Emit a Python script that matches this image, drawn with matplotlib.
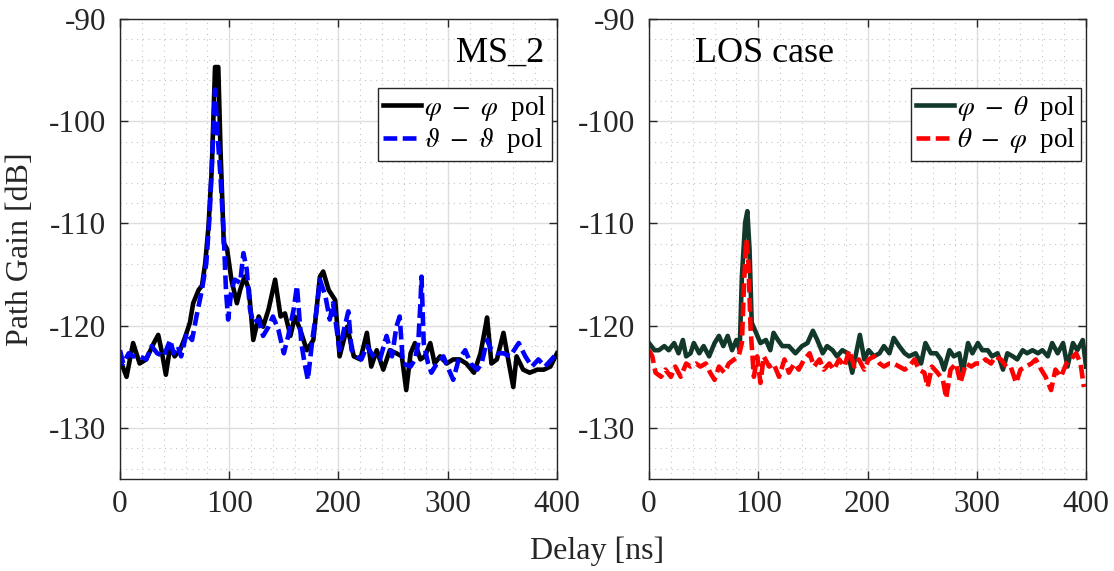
import numpy as np
import matplotlib
matplotlib.use("Agg")
import matplotlib.pyplot as plt
from matplotlib.ticker import MultipleLocator

plt.rcParams['font.family'] = ['Liberation Serif', 'DejaVu Serif']
plt.rcParams['mathtext.fontset'] = 'stix'

# ---- data: left panel (MS_2) ----
t_pp = [0, 6, 12, 18, 24, 31, 35, 38, 42, 46, 50, 55, 60, 64, 67, 72, 75, 78, 81, 84, 87, 90, 92, 95, 98,
        102, 107, 110, 114, 118, 122, 127, 131, 136, 142, 147, 151, 156, 160, 165, 171, 177, 183, 186, 191,
        197, 201, 208, 214, 220, 226, 230, 235, 241, 247, 253, 258, 262, 266, 270, 275, 279, 284, 288, 293,
        299, 305, 311, 317, 324, 330, 334, 336, 340, 345, 351, 356, 360, 363, 369, 375, 382, 388, 394, 400]
g_pp = [-123.3, -125.0, -121.7, -123.7, -123.3, -121.7, -120.9, -122.4, -124.8, -122.0, -123.0, -122.4,
        -121.0, -119.7, -117.8, -116.5, -116.1, -113.9, -110.3, -104.7, -94.7, -94.7, -102.7, -111.9, -112.5,
        -115.5, -117.8, -116.5, -115.2, -116.5, -121.4, -119.1, -120.1, -118.4, -115.5, -119.1, -118.8,
        -121.0, -119.1, -120.4, -122.4, -121.4, -115.2, -114.7, -116.5, -117.5, -123.0, -120.1, -123.0,
        -123.3, -120.7, -124.0, -122.4, -124.3, -122.4, -122.7, -123.0, -126.3, -122.7, -121.7, -123.3,
        -123.0, -121.7, -123.7, -123.0, -123.7, -123.3, -123.3, -123.7, -124.6, -122.7, -120.4, -119.2,
        -123.7, -123.3, -120.7, -123.7, -126.0, -123.0, -124.3, -124.6, -124.3, -124.3, -124.0, -122.7]

t_tt = [0, 3, 8, 12, 18, 24, 29, 34, 40, 46, 49, 53, 56, 61, 66, 70, 75, 79, 82, 85, 87, 89, 92, 95, 97, 99,
        102, 105, 110, 113, 116, 119, 122, 127, 131, 136, 140, 145, 150, 154, 159, 162, 166, 169, 172, 176,
        180, 183, 188, 192, 195, 201, 205, 209, 212, 217, 221, 226, 232, 238, 244, 249, 253, 256, 259, 266,
        270, 273, 275, 276, 278, 282, 285, 290, 296, 301, 305, 310, 316, 321, 327, 331, 336, 340, 345, 351,
        357, 365, 371, 377, 383, 389, 395, 400]
g_tt = [-122.4, -123.7, -122.7, -123.0, -123.0, -123.3, -122.0, -122.7, -123.0, -121.4, -122.7, -122.0,
        -123.0, -120.7, -121.4, -119.1, -116.5, -113.9, -109.3, -102.1, -96.9, -100.8, -105.4, -111.2,
        -116.5, -119.4, -116.5, -115.5, -115.8, -112.9, -114.5, -118.4, -119.7, -119.4, -121.0, -120.1,
        -119.1, -120.4, -122.7, -121.0, -118.4, -116.1, -121.7, -123.7, -125.3, -121.4, -118.4, -115.5,
        -117.1, -119.4, -117.8, -122.4, -120.4, -118.6, -122.4, -123.0, -123.3, -122.0, -123.0, -123.3,
        -121.0, -123.0, -120.1, -119.1, -123.7, -124.0, -123.3, -121.7, -117.8, -115.2, -121.7, -123.7,
        -124.6, -123.7, -123.0, -124.3, -125.3, -123.3, -122.4, -123.7, -124.3, -123.7, -121.4, -122.4,
        -122.7, -122.7, -123.0, -121.7, -123.0, -124.0, -123.3, -124.0, -123.3, -122.7]

# ---- data: right panel (LOS case) ----
t_pt = [0, 5, 9, 14, 18, 23, 27, 31, 34, 38, 41, 46, 50, 55, 60, 64, 68, 72, 76, 80, 83, 85, 88, 90, 92, 94,
        98, 102, 107, 111, 114, 118, 122, 128, 134, 140, 145, 150, 154, 159, 163, 168, 172, 177, 182, 186,
        189, 193, 197, 201, 206, 211, 215, 220, 224, 229, 234, 238, 244, 249, 253, 258, 263, 267, 270, 275,
        279, 284, 287, 292, 296, 301, 305, 310, 314, 319, 324, 328, 333, 337, 342, 346, 351, 356, 360, 365,
        369, 374, 379, 383, 388, 392, 397, 400]
g_pt = [-121.7, -122.4, -122.4, -122.0, -122.4, -121.7, -122.7, -121.4, -123.0, -122.7, -121.7, -122.7,
        -122.0, -123.0, -121.7, -121.0, -122.0, -121.0, -122.4, -121.4, -122.4, -115.2, -109.9, -108.8,
        -112.5, -119.7, -120.7, -121.7, -121.4, -122.4, -120.7, -121.4, -122.0, -122.0, -122.7, -122.0,
        -121.7, -120.5, -121.4, -122.7, -122.0, -122.4, -123.0, -122.4, -122.7, -124.6, -123.0, -120.9,
        -123.3, -122.4, -123.0, -122.7, -122.0, -122.7, -121.2, -122.0, -122.7, -123.0, -122.7, -123.7,
        -121.7, -122.7, -122.7, -123.3, -124.3, -122.4, -123.0, -122.7, -124.6, -121.7, -122.7, -121.7,
        -122.4, -122.4, -123.0, -122.7, -124.3, -122.7, -123.0, -123.3, -122.4, -122.7, -122.4, -122.7,
        -122.4, -123.0, -121.7, -122.7, -121.7, -124.0, -121.7, -122.4, -121.4, -124.0]

t_tp = [0, 3, 6, 11, 15, 20, 24, 29, 34, 38, 43, 47, 52, 56, 60, 64, 69, 73, 78, 82, 85, 87, 89, 91, 93, 96,
        99, 102, 105, 110, 114, 119, 124, 128, 133, 137, 142, 147, 151, 156, 160, 165, 169, 174, 179, 183,
        188, 192, 197, 201, 206, 211, 215, 220, 224, 229, 234, 238, 243, 247, 252, 255, 259, 264, 269, 272,
        276, 281, 285, 290, 295, 299, 304, 308, 313, 317, 322, 327, 331, 336, 340, 345, 350, 354, 359, 363,
        368, 372, 377, 382, 386, 391, 395, 398]
g_tp = [-122.4, -123.0, -124.6, -125.0, -124.3, -125.0, -124.0, -125.0, -123.7, -124.0, -123.7, -124.0,
        -123.7, -124.6, -125.3, -124.0, -124.6, -123.7, -123.3, -123.0, -121.7, -115.8, -111.6, -113.9,
        -120.4, -125.0, -123.0, -125.6, -123.0, -124.0, -123.7, -125.0, -123.3, -124.6, -123.7, -124.3,
        -123.3, -122.7, -124.0, -123.3, -124.3, -123.7, -124.3, -123.3, -124.0, -122.4, -124.0, -123.3,
        -124.3, -123.3, -123.0, -123.7, -124.0, -123.7, -123.7, -124.0, -124.3, -124.0, -123.3, -124.3,
        -124.6, -126.0, -124.0, -124.6, -125.3, -127.1, -124.3, -123.7, -125.6, -123.7, -124.0, -123.7,
        -123.7, -123.3, -123.7, -123.0, -123.3, -124.0, -124.0, -125.6, -124.3, -124.0, -123.7, -123.3,
        -124.3, -125.0, -126.3, -124.3, -125.0, -123.7, -123.3, -122.7, -123.7, -126.0]

xticks = [0, 100, 200, 300, 400]
yticks = [-130, -120, -110, -100, -90]
ytick_labels = ['-130', '-120', '-110', '-100', '-90']

fig = plt.figure(figsize=(11.14, 5.71), dpi=100)
ax1 = fig.add_axes([0.1077, 0.1611, 0.3923, 0.8056])
ax2 = fig.add_axes([0.5826, 0.1611, 0.3923, 0.8056])

green = '#12382a'
lw = 3.3
ax1.plot(t_pp, g_pp, color='black', lw=lw, label=r'$\varphi\ -\ \varphi\ $ pol')
ax1.plot(t_tt, g_tt, color='#0000ff', lw=lw, ls=(0, (3, 1.2)), label=r'$\vartheta\ -\ \vartheta\ $ pol')
ax2.plot(t_pt, g_pt, color=green, lw=lw, label=r'$\varphi\ -\ \theta\ $ pol')
ax2.plot(t_tp, g_tp, color='#ff0000', lw=lw, ls=(0, (3, 1.2)), label=r'$\theta\ -\ \varphi\ $ pol')

for ax in (ax1, ax2):
    ax.set_xlim(0, 400)
    ax.set_ylim(-135, -90)
    ax.set_xticks(xticks)
    ax.set_yticks(yticks)
    ax.set_yticklabels(ytick_labels)
    ax.xaxis.set_minor_locator(MultipleLocator(20))
    ax.yaxis.set_minor_locator(MultipleLocator(2))
    ax.grid(True, which='major', color='#dedede', lw=1.0, ls='-')
    ax.grid(True, which='minor', color='#c4c4c4', lw=0.8, ls=(0, (1, 4)))
    ax.set_axisbelow(True)
    ax.tick_params(which='both', direction='in', top=True, right=True, labelsize=22.5, colors='#262626')
    ax.tick_params(which='major', length=6, width=1.0)
    ax.tick_params(which='minor', length=0)
    for s in ax.spines.values():
        s.set_color('#262626')
        s.set_linewidth(1.0)
    ax.tick_params(axis='x', pad=8)
    ax.tick_params(axis='y', pad=10)
    leg = ax.legend(loc='upper right', bbox_to_anchor=(0.995, 0.855), fontsize=19.5, frameon=True,
                    fancybox=False, edgecolor='#262626', framealpha=1, handlelength=1.4,
                    handletextpad=0.1, borderpad=0.2, labelspacing=0.12, borderaxespad=0.1)
    leg.get_frame().set_linewidth(1.0)

ax1.set_ylabel('Path Gain [dB]', fontsize=23, color='#262626', labelpad=10)
ax1.text(0.97, 0.925, 'MS_2', transform=ax1.transAxes, fontsize=26, ha='right', va='center', color='black')
ax2.text(0.105, 0.925, 'LOS case', transform=ax2.transAxes, fontsize=26, ha='left', va='center', color='black')
fig.text(0.536, 0.035, 'Delay [ns]', fontsize=23, ha='center', va='center', color='#262626')

fig.savefig('out.png', dpi=100)
